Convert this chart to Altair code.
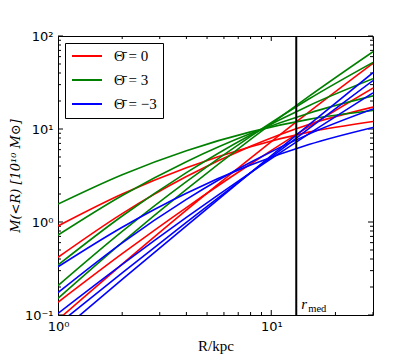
import altair as alt
import pandas as pd

# ---- data ----
R_grid = [1, 2, 4, 8, 15, 30]

red_1 = [0.906, 2.00, 3.84, 6.46, 9.25, 12.05]
red_2 = [0.417, 1.23, 3.08, 6.52, 11.2, 17.2]
red_3 = [0.137, 0.456, 1.43, 4.20, 10.6, 27.6]
red_4 = [0.089, 0.352, 1.34, 4.86, 15.2, 50.9]

green_1 = [1.56, 3.23, 5.85, 9.31, 12.7, 15.8]
green_2 = [0.724, 1.93, 4.45, 8.93, 14.8, 22.7]
green_3 = [0.345, 1.16, 3.39, 8.63, 17.8, 34.7]
green_4 = [0.207, 0.792, 2.72, 8.34, 21.0, 52.1]
green_5 = [0.151, 0.604, 2.24, 7.74, 22.4, 67.8]

blue_1 = [0.330, 0.879, 2.04, 4.09, 6.81, 10.4]
blue_2 = [0.174, 0.597, 1.75, 4.39, 8.81, 16.4]
blue_3 = [0.104, 0.350, 1.12, 3.40, 8.87, 24.5]
blue_4 = [0.0794, 0.283, 0.991, 3.38, 10.1, 33.2]
blue_5 = [0.063, 0.241, 0.910, 3.40, 11.1, 40.3]

theta_labels = ["Θ̄ = 0", "Θ̄ = 3", "Θ̄ = −3"]
colors = ["#ff0000", "#008000", "#0000ff"]

r_med = [13.1]

x_major = [1, 10]
x_minor = [2, 3, 4, 5, 6, 7, 8, 9, 20, 30]
y_major = [0.1, 1, 10, 100]
y_minor = [0.2, 0.3, 0.4, 0.5, 0.6, 0.7, 0.8, 0.9,
           2, 3, 4, 5, 6, 7, 8, 9,
           20, 30, 40, 50, 60, 70, 80, 90]

# ---- build long table ----
groups = [
    (theta_labels[0], [red_1, red_2, red_3, red_4]),
    (theta_labels[1], [green_1, green_2, green_3, green_4, green_5]),
    (theta_labels[2], [blue_1, blue_2, blue_3, blue_4, blue_5]),
]
rows = []
sid = 0
for lab, series in groups:
    for s in series:
        sid += 1
        for i, (r, m) in enumerate(zip(R_grid, s)):
            rows.append({"R": r, "M": m, "theta": lab, "sid": sid, "order": sid * 10 + i})
df = pd.DataFrame(rows)

W, H = 315, 279

xscale = alt.Scale(type="log", domain=[1, 30], nice=False)
yscale = alt.Scale(type="log", domain=[0.1, 100], nice=False)

xaxis = alt.Axis(values=x_major, ticks=False, domain=False, grid=False,
                 labelExpr="datum.value == 1 ? '10⁰' : '10¹'",
                 labelFont="DejaVu Sans", labelFontSize=13, labelColor="black",
                 labelPadding=5, labelFlush=False,
                 title="R/kpc", titleFont="Liberation Serif", titleFontSize=15,
                 titleFontWeight="normal", titleColor="black", titlePadding=5)
yaxis = alt.Axis(values=y_major, ticks=False, domain=False, grid=False,
                 labelExpr="datum.value == 100 ? '10²' : datum.value == 10 ? '10¹' : datum.value == 1 ? '10⁰' : '10⁻¹'",
                 labelFont="DejaVu Sans", labelFontSize=13, labelColor="black",
                 labelPadding=5, labelFlush=False,
                 title="M(<R) [10¹⁰ M⊙]", titleFont="DejaVu Serif", titleFontSize=13,
                 titleFontStyle="italic", titleFontWeight="normal", titleColor="black",
                 titlePadding=2)

X = lambda: alt.X("R:Q", scale=xscale, axis=xaxis)
Y = lambda: alt.Y("M:Q", scale=yscale, axis=yaxis)

lines = alt.Chart(df).mark_line(clip=True, strokeWidth=1.6, interpolate="monotone").encode(
    x=X(), y=Y(),
    color=alt.Color("theta:N", scale=alt.Scale(domain=theta_labels, range=colors),
                    legend=alt.Legend(title=None, orient="top-left", offset=7,
                                      symbolType="stroke", symbolSize=900,
                                      symbolStrokeWidth=1.8, labelFont="Liberation Serif",
                                      labelFontSize=15, labelColor="black", labelOffset=11,
                                      padding=6, rowPadding=9, clipHeight=14,
                                      strokeColor="black", fillColor="white")),
    detail="sid:N",
    order="order:Q",
)

xt_df_major = pd.DataFrame({"R": x_major})
xt_df_minor = pd.DataFrame({"R": x_minor})
yt_df_major = pd.DataFrame({"M": y_major})
yt_df_minor = pd.DataFrame({"M": y_minor})

def xticks(d, L):
    b = alt.Chart(d).mark_rule(color="black", strokeWidth=1, clip=True).encode(
        x=X(), y=alt.value(H), y2=alt.value(H - L))
    t = alt.Chart(d).mark_rule(color="black", strokeWidth=1, clip=True).encode(
        x=X(), y=alt.value(0), y2=alt.value(L))
    return [b, t]

def yticks(d, L):
    l = alt.Chart(d).mark_rule(color="black", strokeWidth=1).encode(
        y=Y(), x=alt.value(0), x2=alt.value(L))
    r = alt.Chart(d).mark_rule(color="black", strokeWidth=1).encode(
        y=Y(), x=alt.value(W), x2=alt.value(W - L))
    return [l, r]

rmed_df = pd.DataFrame({"R": r_med})
vline = alt.Chart(rmed_df).mark_rule(color="black", strokeWidth=2).encode(
    x=X(), y=alt.value(0), y2=alt.value(H))
rtext = alt.Chart(rmed_df).mark_text(text="r", font="Liberation Serif", fontStyle="italic",
                                     fontSize=15, align="left", baseline="alphabetic",
                                     dx=5, color="black").encode(x=X(), y=alt.value(273))
medtext = alt.Chart(rmed_df).mark_text(text="med", font="Liberation Serif",
                                       fontSize=10.5, align="left", baseline="alphabetic",
                                       dx=12, color="black").encode(x=X(), y=alt.value(276))

layers = (xticks(xt_df_major, 5) + xticks(xt_df_minor, 3) +
          yticks(yt_df_major, 5) + yticks(yt_df_minor, 3) +
          [lines, vline, rtext, medtext])

chart = alt.layer(*layers).properties(
    width=W, height=H,
    autosize=alt.AutoSizeParams(type="none"),
    padding={"left": 50, "top": 28, "right": 34, "bottom": 40},
).configure_view(stroke="black", strokeWidth=1).configure_legend(cornerRadius=0, strokeWidth=1)

chart.save("out.html", embed_options={"renderer": "svg", "actions": False})
